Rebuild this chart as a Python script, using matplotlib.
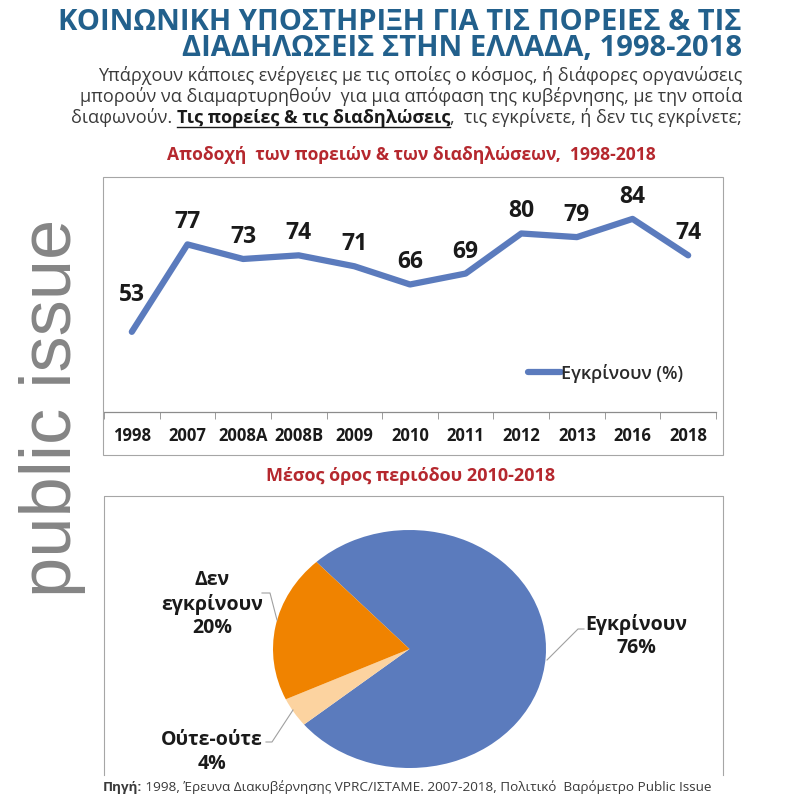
import numpy as np
import matplotlib
matplotlib.use('Agg')
import matplotlib.pyplot as plt
from matplotlib.lines import Line2D
from matplotlib.patches import Rectangle

# ---------------- data ----------------
categories = ['1998', '2007', '2008A', '2008B', '2009', '2010', '2011',
              '2012', '2013', '2016', '2018']
approve = [53, 77, 73, 74, 71, 66, 69, 80, 79, 84, 74]
series_name = 'Εγκρίνουν (%)'

pie_labels = ['Εγκρίνουν', 'Ούτε-ούτε', 'Δεν\nεγκρίνουν']
pie_values = [76, 4, 20]
pie_colors = ['#5B7BBD', '#FCD3A0', '#F08300']

title_lines = ['ΚΟΙΝΩΝΙΚΗ ΥΠΟΣΤΗΡΙΞΗ ΓΙΑ ΤΙΣ ΠΟΡΕΙΕΣ & ΤΙΣ',
               'ΔΙΑΔΗΛΩΣΕΙΣ ΣΤΗΝ ΕΛΛΑΔΑ, 1998-2018']
subtitle_1 = 'Υπάρχουν κάποιες ενέργειες με τις οποίες ο κόσμος, ή διάφορες οργανώσεις'
subtitle_2 = 'μπορούν να διαμαρτυρηθούν  για μια απόφαση της κυβέρνησης, με την οποία'
subtitle_3 = [('διαφωνούν. ', 'normal', False),
              ('Τις πορείες & τις διαδηλώσεις', 'bold', True),
              (',  τις εγκρίνετε, ή δεν τις εγκρίνετε;', 'normal', False)]
line_title = 'Αποδοχή  των πορειών & των διαδηλώσεων,  1998-2018'
pie_title = 'Μέσος όρος περιόδου 2010-2018'
source_runs = [('Πηγή:', 'bold'),
               (' 1998, Έρευνα Διακυβέρνησης VPRC/ΙΣΤΑΜΕ. 2007-2018, Πολιτικό  Βαρόμετρο Public Issue', 'normal')]
watermark = 'public issue'

plt.rcParams['font.family'] = ['Open Sans', 'DejaVu Sans']

W = H = 800
fig = plt.figure(figsize=(8, 8), dpi=100)
fig.patch.set_facecolor('white')


def fx(x):
    return x / W


def fy(y):
    return 1 - y / H


BLUE = '#5B7BBD'
RED = '#B5282E'
GREY_BOX = '#A6A6A6'

# ---------------- header ----------------
fig.text(fx(742), fy(22), title_lines[0], ha='right', va='center',
         fontsize=21, fontweight='bold', color='#22608C')
fig.text(fx(742), fy(49), title_lines[1], ha='right', va='center',
         fontsize=21, fontweight='bold', color='#22608C')

SUB_COLOR = '#3A3A3A'
SUB_SIZE = 13
fig.text(fx(742), fy(81), subtitle_1, ha='right', va='baseline',
         fontsize=SUB_SIZE, color=SUB_COLOR)
fig.text(fx(742), fy(102), subtitle_2, ha='right', va='baseline',
         fontsize=SUB_SIZE, color=SUB_COLOR)

fig.canvas.draw()
renderer = fig.canvas.get_renderer()

# third subtitle line, right aligned, assembled from runs
objs = []
for txt, wt, ul in subtitle_3:
    t = fig.text(0, fy(123), txt, ha='left', va='baseline', fontsize=SUB_SIZE,
                 fontweight=wt, color=SUB_COLOR if wt == 'normal' else '#1A1A1A')
    objs.append((t, ul))
widths = [t.get_window_extent(renderer).width for t, _ in objs]
xcur = 742 - sum(widths)
for (t, ul), w in zip(objs, widths):
    t.set_x(fx(xcur))
    if ul:
        fig.add_artist(Line2D([fx(xcur), fx(xcur + w)], [fy(127), fy(127)],
                              transform=fig.transFigure, color='#1A1A1A', lw=1.0))
    xcur += w

# ---------------- line chart ----------------
fig.text(fx(411), fy(155), line_title, ha='center', va='center',
         fontsize=12.6, fontweight='bold', color=RED)

fig.add_artist(Rectangle((fx(103), fy(455)), fx(723) - fx(103), fy(177) - fy(455),
                         fill=False, edgecolor=GREY_BOX, lw=0.8,
                         transform=fig.transFigure))

ax = fig.add_axes([fx(104), fy(412), fx(716) - fx(104), fy(177) - fy(412)])
xs = np.arange(len(categories))
ax.plot(xs, approve, color=BLUE, lw=4.5, solid_capstyle='round',
        solid_joinstyle='round', label=series_name)
ax.set_xlim(-0.5, len(categories) - 0.5)
ax.set_ylim(31, 95.5)
for s in ['top', 'left', 'right']:
    ax.spines[s].set_visible(False)
ax.spines['bottom'].set_color('#8C8C8C')
ax.spines['bottom'].set_linewidth(0.9)
ax.set_yticks([])
ax.set_xticks(xs)
ax.set_xticklabels(categories, fontweight='bold', fontsize=12, color='#1A1A1A')
ax.tick_params(axis='x', which='major', length=0, pad=11)
ax.set_xticks(np.arange(-0.5, len(categories) + 0.5, 1), minor=True)
ax.tick_params(axis='x', which='minor', length=5, color='#8C8C8C', direction='out')
ax.patch.set_alpha(0)

for i, v in enumerate(approve):
    off = 37 if i == 0 else 22
    ax.annotate(str(v), (i, v), xytext=(0, off), textcoords='offset pixels',
                ha='center', va='center', fontsize=16.5, fontweight='bold',
                color='#1A1A1A')

ax.legend(loc='center left', bbox_to_anchor=(fx(528), fy(373)),
          bbox_transform=fig.transFigure, frameon=False, borderpad=0,
          borderaxespad=0, handlelength=1.8, handletextpad=0.05,
          prop={'size': 13, 'weight': 'semibold'}, labelcolor='#2A2A2A')

# ---------------- pie chart ----------------
fig.text(fx(411), fy(476), pie_title, ha='center', va='center',
         fontsize=13, fontweight='bold', color=RED)

box_pts_x = [fx(104), fx(104), fx(723), fx(723)]
box_pts_y = [fy(775), fy(496), fy(496), fy(775)]
fig.add_artist(Line2D(box_pts_x, box_pts_y, transform=fig.transFigure,
                      color=GREY_BOX, lw=0.8))

pax = fig.add_axes([fx(273), fy(768), fx(546) - fx(273), fy(530) - fy(768)])
pax.pie(pie_values, colors=pie_colors, startangle=133, counterclock=False,
        wedgeprops=dict(linewidth=0))
pax.set_aspect('auto')
pax.set_xlim(-1, 1)
pax.set_ylim(-1, 1)

label_pos = [(636, 636), (212, 752), (212, 604)]
for (px, py), lab, val in zip(label_pos, pie_labels, pie_values):
    fig.text(fx(px), fy(py), f'{lab}\n{val}%', ha='center', va='center',
             fontsize=14, fontweight='bold', color='#1A1A1A', linespacing=1.25,
             multialignment='center')

leaders = [([547, 578, 584], [660, 629, 629]),
           ([266, 272, 293], [742, 742, 710]),
           ([262, 270, 277], [593, 593, 620])]
for lx, ly in leaders:
    fig.add_artist(Line2D([fx(v) for v in lx], [fy(v) for v in ly],
                          transform=fig.transFigure, color='#A0A0A0', lw=0.8))

# ---------------- watermark & source ----------------
fig.text(fx(53), fy(408), watermark, rotation=90, ha='center', va='center',
         fontsize=52, color='#858585', family=['Liberation Sans', 'DejaVu Sans'],
         fontweight='normal')

xcur = 103
for txt, wt in source_runs:
    t = fig.text(fx(xcur), fy(791), txt, ha='left', va='baseline', fontsize=9.7,
                 fontweight=wt, color='#3A3A3A')
    xcur += t.get_window_extent(renderer).width

fig.savefig('out.png', dpi=100, facecolor='white')
